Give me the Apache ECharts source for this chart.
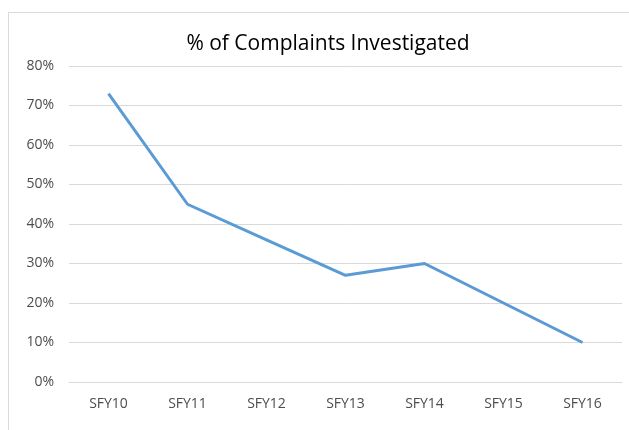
<!DOCTYPE html>
<html>
<head>
<meta charset="utf-8">
<script src="https://cdn.jsdelivr.net/npm/echarts@6/dist/echarts.min.js"></script>
<style>
  html, body { margin: 0; padding: 0; background: #fff; }
  #frame { position: absolute; left: 8px; top: 12px; width: 621px; height: 418px;
           border-left: 1px solid #d9d9d9; border-top: 1px solid #d9d9d9; }
  #chart { position: absolute; left: 0; top: 0; width: 629px; height: 430px; }
</style>
</head>
<body>
<div id="frame"></div>
<div id="chart"></div>
<script>
const categories = ['SFY10', 'SFY11', 'SFY12', 'SFY13', 'SFY14', 'SFY15', 'SFY16'];
const investigated = [73, 45, 36, 27, 30, 20, 10];
const chartTitle = '% of Complaints Investigated';

const font = 'Open Sans';
const chart = echarts.init(document.getElementById('chart'));
chart.setOption({
  animation: false,
  title: {
    text: chartTitle,
    left: 323,
    textAlign: 'center',
    top: 29,
    textStyle: { fontFamily: font, fontSize: 21, fontWeight: 'normal', color: '#000' }
  },
  grid: { left: 69, right: 7, top: 66, bottom: 48 },
  xAxis: {
    type: 'category',
    data: categories,
    axisLine: { lineStyle: { color: '#d9d9d9' } },
    axisTick: { show: false },
    axisLabel: { color: '#4d4d4d', fontFamily: font, fontSize: 14, margin: 15 }
  },
  yAxis: {
    type: 'value',
    min: 0,
    max: 80,
    interval: 10,
    axisLine: { show: false },
    axisTick: { show: false },
    splitLine: { lineStyle: { color: '#d9d9d9' } },
    axisLabel: { color: '#4d4d4d', fontFamily: font, fontSize: 14, margin: 15, formatter: '{value}%' }
  },
  series: [{
    type: 'line',
    data: investigated,
    showSymbol: false,
    lineStyle: { color: '#5b9bd5', width: 3 },
    itemStyle: { color: '#5b9bd5' }
  }]
});
</script>
</body>
</html>
